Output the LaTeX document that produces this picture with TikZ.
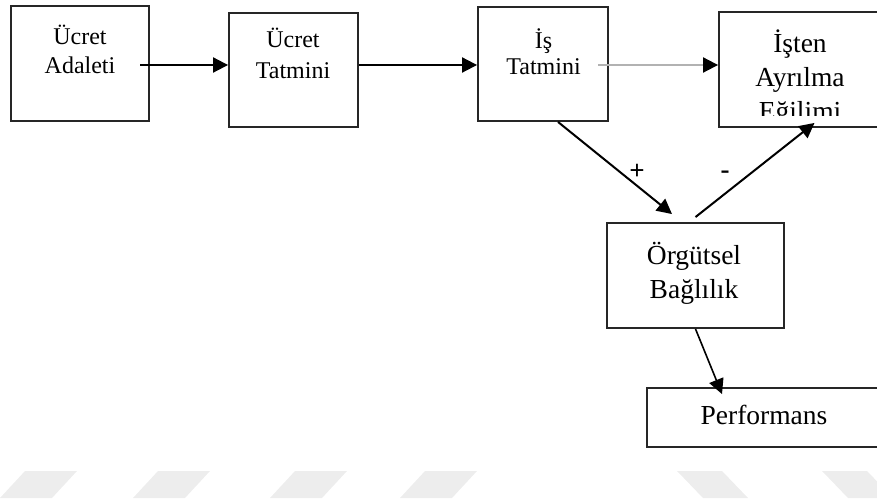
\documentclass[tikz,border=0pt]{standalone}
\usepackage{fontspec}
\setmainfont{Liberation Serif}
\usetikzlibrary{positioning,arrows.meta}

\begin{document}
\begin{tikzpicture}[x=1pt,y=-1pt,
    box/.style={draw=black!85,line width=1.9pt,inner sep=0pt},
    lbl/.style 2 args={font=\fontsize{#1}{#2}\selectfont,align=center,inner sep=0pt,anchor=north},
    arr/.style={line width=2pt,-{Triangle[length=15pt,width=15pt]}},
    grayarr/.style={line width=2pt,draw=gray!60,-{Triangle[length=15pt,width=15pt,color=black]}},
    sign/.style={font=\fontsize{27}{27}\selectfont\bfseries,inner sep=0pt}]
        \useasboundingbox (0,0) rectangle (877,502);
        \clip (0,0) rectangle (877,502);
        % Watermark
        \foreach \x in {0,133,270,400}
            \fill[black!7] (\x,498) -- (\x+25,471) -- (\x+77,471) -- (\x+52,498) -- cycle;
        \foreach \x in {677,822}
            \fill[black!7] (\x,471) -- (\x+45,471) -- (\x+71,498) -- (\x+26,498) -- cycle;
        % Boxes
        \node[box,minimum width=138,minimum height=115] (adalet) at (80,63.5) {};
        \node[box,minimum width=129,minimum height=114] (ucret) at (293.5,70) {};
        \node[box,minimum width=130,minimum height=114] (is) at (543,64) {};
        \node[box,minimum width=181,minimum height=115] (ayrilma) at (809.5,69.5) {};
        \node[box,minimum width=177,minimum height=105] (orgutsel) at (695.5,275.5) {};
        \node[box,minimum width=253,minimum height=59] (perf) at (773.5,417.5) {};
        % Texts
        \node[lbl={24}{29}] (tadalet) at (80,25) {Ücret\\Adaleti};
        \node[lbl={24}{31}] (tucret) at (293,28) {Ücret\\Tatmini};
        \node[lbl={24}{26}] (tis) at (543.5,28) {İş\\Tatmini};
        \begin{scope}
            \clip (720,13) rectangle (900,116);
            \node[lbl={27.5}{34}] (tayrilma) at (800,30) {İşten\\Ayrılma\\Eğilimi};
        \end{scope}
        \node[lbl={27.5}{34}] (torgutsel) at (694,242) {Örgütsel\\Bağlılık};
        \node[lbl={27.5}{30}] (tperf) at (764,405) {Performans};
        % Arrows
        \coordinate (s1) at (140,65);
        \coordinate (s3) at (598,65);
        \draw[arr] (s1) -- (s1 -| ucret.west);
        \draw[arr] (s1 -| ucret.east) -- (s1 -| is.west);
        \draw[grayarr] (s3) -- (s3 -| ayrilma.west);
        \draw[arr] ([xshift=15pt]is.south) -- ([xshift=-23.5pt,yshift=8pt]orgutsel.north);
        \draw[arr] ([yshift=5pt]orgutsel.north) -- ([xshift=5pt,yshift=5pt]ayrilma.south);
        \draw[arr,line width=1.6pt] (orgutsel.south) -- ([xshift=-51.5pt,yshift=-7pt]perf.north);
        % Signs
        \node[sign] (plus) at (637,172) {+};
        \node[sign] (minus) at (725,175) {-};
\end{tikzpicture}
\end{document}
